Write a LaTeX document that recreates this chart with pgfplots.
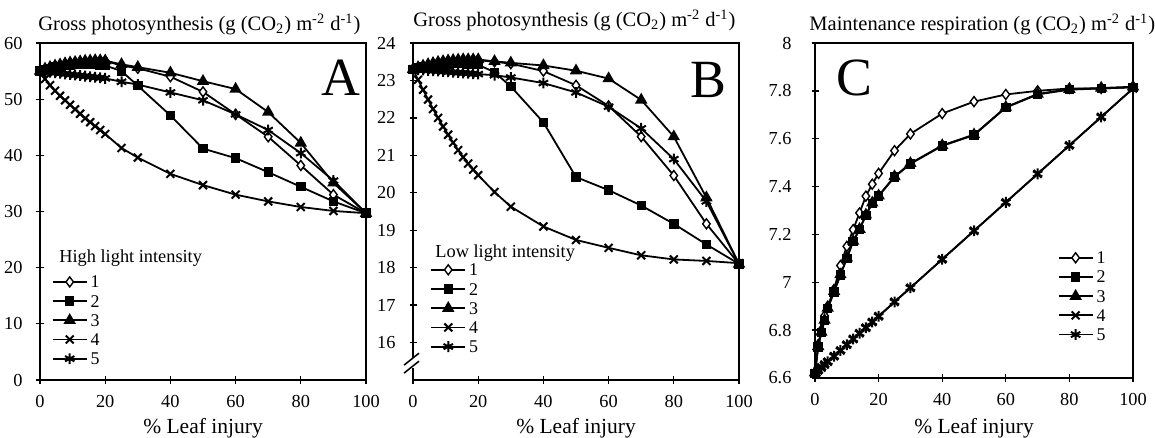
\documentclass[border=0pt]{standalone}
\usepackage{fontspec}
\setmainfont{Liberation Serif}
\usepackage{pgfplots}
\usepackage{pgfplotstable}
\pgfplotsset{compat=1.18}

% panel A: high light, gross photosynthesis
\pgfplotstableread{
x      s1     s2     s3     s4     s5
0      55.0   55.0   55.0   55.0   55.0
1.54   55.3   55.25  55.4   53.6   54.9
3.08   55.6   55.5   55.7   52.5   54.8
4.62   55.85  55.7   55.95  51.5   54.7
6.15   56.05  55.85  56.15  50.6   54.6
7.69   56.25  56.0   56.35  49.8   54.5
9.23   56.4   56.1   56.5   49.0   54.4
10.77  56.5   56.15  56.6   48.2   54.3
12.31  56.6   56.2   56.7   47.4   54.2
13.85  56.7   56.2   56.8   46.6   54.1
15.38  56.75  56.2   56.85  45.9   54.0
16.92  56.8   56.15  56.9   45.2   53.9
18.46  56.8   56.1   56.9   44.5   53.8
20     56.8   56.0   56.85  43.8   53.7
25     56.0   55.0   56.2   41.3   53.1
30     55.5   52.4   55.7   39.6   52.6
40     54.0   47.1   54.7   36.7   51.2
50     51.3   41.2   53.2   34.7   49.8
60     47.3   39.5   51.8   33.0   47.3
70     43.3   37.0   47.7   31.8   44.5
80     38.2   34.4   42.2   30.8   40.4
90     33.0   31.8   35.1   30.1   35.5
100    29.7   29.7   29.7   29.7   29.7
}\dataA

% panel B: low light, gross photosynthesis
\pgfplotstableread{
x      s1     s2     s3     s4     s5
0      23.30  23.30  23.30  23.30  23.30
1.54   23.34  23.33  23.35  23.02  23.29
3.08   23.38  23.36  23.39  22.75  23.28
4.62   23.41  23.38  23.43  22.49  23.27
6.15   23.44  23.40  23.46  22.24  23.26
7.69   23.47  23.42  23.49  22.00  23.25
9.23   23.49  23.43  23.51  21.77  23.24
10.77  23.51  23.44  23.53  21.55  23.23
12.31  23.52  23.45  23.54  21.34  23.22
13.85  23.53  23.45  23.55  21.14  23.21
15.38  23.54  23.45  23.56  20.95  23.20
16.92  23.54  23.44  23.56  20.78  23.19
18.46  23.54  23.43  23.56  20.62  23.18
20     23.54  23.42  23.56  20.47  23.17
25     23.50  23.22  23.51  20.02  23.14
30     23.45  22.84  23.47  19.63  23.08
40     23.25  21.88  23.40  19.10  22.93
50     22.87  20.42  23.26  18.74  22.68
60     22.32  20.07  23.05  18.53  22.30
70     21.50  19.66  22.48  18.33  21.72
80     20.46  19.17  21.50  18.22  20.90
90     19.17  18.62  19.87  18.18  19.77
100    18.10  18.10  18.10  18.12  18.10
}\dataB

% panel C: maintenance respiration
\pgfplotstableread{
x      s1     s2     s3     s4     s5
0      6.620  6.620  6.622  6.620  6.620
1      6.740  6.730  6.732  6.632  6.632
2      6.800  6.790  6.792  6.644  6.644
3      6.860  6.840  6.842  6.656  6.656
4      6.900  6.890  6.892  6.668  6.668
6      6.970  6.960  6.962  6.691  6.691
8      7.070  7.030  7.032  6.715  6.715
10     7.150  7.100  7.102  6.739  6.739
12     7.220  7.170  7.172  6.763  6.763
14     7.290  7.220  7.222  6.787  6.787
16     7.360  7.280  7.282  6.810  6.810
18     7.410  7.330  7.332  6.834  6.834
20     7.455  7.360  7.362  6.858  6.858
25     7.550  7.440  7.442  6.918  6.918
30     7.620  7.495  7.497  6.977  6.977
40     7.705  7.570  7.572  7.096  7.096
50     7.755  7.615  7.617  7.215  7.215
60     7.785  7.730  7.732  7.334  7.334
70     7.800  7.785  7.787  7.453  7.453
80     7.810  7.805  7.807  7.572  7.572
90     7.810  7.810  7.812  7.691  7.691
100    7.815  7.815  7.817  7.810  7.810
}\dataC

\pgfplotsset{
  panel/.style={
    scale only axis, anchor=south west, clip=false,
    xmin=0, xmax=100, xtick={0,20,...,100},
    tick align=center, major tick length=3.5bp,
    xtick pos=bottom, ytick pos=left,
    minor tick num=0,
    tick label style={font=\fontsize{9.2}{10}\selectfont},
    /pgf/number format/assume math mode=true,
    xticklabel style={yshift=-2.5bp},
    yticklabel style={xshift=-3.5bp},
    axis line style={line width=0.75bp},
    every tick/.style={line width=0.65bp, black},
    xlabel={\% Leaf injury},
    xlabel style={font=\fontsize{10.8}{12}\selectfont, at={(axis description cs:0.5,0)},
      anchor=center, yshift=-24bp},
    legend style={draw=none, fill=none, inner sep=0pt,
      font=\fontsize{9}{10}\selectfont,
      nodes={inner sep=0pt, text height=6bp, text depth=0bp},
      row sep=3.6bp, column sep=1.5bp},
    legend cell align=left,
    every axis plot/.append style={line width=0.9bp, black},
  },
  sA/.style={mark=diamond*, mark size=2.5bp, mark options={fill=white, solid, line width=0.7bp}},
  sB/.style={mark=square*, mark size=1.9bp},
  sC/.style={mark=triangle*, mark size=2.7bp},
  sD/.style={mark=x, mark size=2.8bp, mark options={line width=1bp}},
  sE/.style={mark=asterisk, mark size=2.7bp, mark options={line width=1bp}},
}

\begin{document}
\begin{tikzpicture}
\useasboundingbox (0,0) rectangle (577.5bp,219bp);

% ---------------- A ----------------
\begin{axis}[panel, at={(20bp,29bp)}, width=163bp, height=168.5bp,
    ymin=0, ymax=60, ytick={0,10,...,60},
    legend style={at={(rel axis cs:0.035,0.31)}, anchor=north west}]
  \addplot[sA] table[y=s1] {\dataA}; \addlegendentry{1}
  \addplot[sB] table[y=s2] {\dataA}; \addlegendentry{2}
  \addplot[sC] table[y=s3] {\dataA}; \addlegendentry{3}
  \addplot[sD] table[y=s4] {\dataA}; \addlegendentry{4}
  \addplot[sE] table[y=s5] {\dataA}; \addlegendentry{5}
\end{axis}

% ---------------- B ----------------
\begin{axis}[panel, at={(206.5bp,29bp)}, width=163bp, height=168.5bp,
    ymin=15, ymax=24, ytick={16,17,...,24},
    legend style={at={(rel axis cs:0.052,0.346)}, anchor=north west}]
  \addplot[sA] table[y=s1] {\dataB}; \addlegendentry{1}
  \addplot[sB] table[y=s2] {\dataB}; \addlegendentry{2}
  \addplot[sC] table[y=s3] {\dataB}; \addlegendentry{3}
  \addplot[sD] table[y=s4] {\dataB}; \addlegendentry{4}
  \addplot[sE] table[y=s5] {\dataB}; \addlegendentry{5}
  % axis break
  \fill[white] ([xshift=-1bp,yshift=-2.5bp]axis cs:0,15.45) rectangle ([xshift=1bp,yshift=2.5bp]axis cs:0,15.45);
  \draw[line width=0.75bp] ([xshift=-4.5bp,yshift=-5bp]axis cs:0,15.45) -- ([xshift=3bp,yshift=1bp]axis cs:0,15.45);
  \draw[line width=0.75bp] ([xshift=-4.5bp,yshift=-1bp]axis cs:0,15.45) -- ([xshift=3bp,yshift=5bp]axis cs:0,15.45);
\end{axis}

% ---------------- C ----------------
\begin{axis}[panel, at={(407.5bp,30bp)}, width=159bp, height=167.5bp,
    ymin=6.6, ymax=8, ytick={6.6,6.8,...,8.01},
    yticklabel style={xshift=-3bp},
    xlabel style={yshift=-1bp},
    legend style={at={(rel axis cs:0.762,0.378)}, anchor=north west}]
  \addplot[sA] table[y=s1] {\dataC}; \addlegendentry{1}
  \addplot[sB] table[y=s2] {\dataC}; \addlegendentry{2}
  \addplot[sC] table[y=s3] {\dataC}; \addlegendentry{3}
  \addplot[sD] table[y=s4] {\dataC}; \addlegendentry{4}
  \addplot[sE] table[y=s5] {\dataC}; \addlegendentry{5}
\end{axis}

% titles, panel letters, legend headings
\node[anchor=base west, font=\fontsize{10.3}{12}\selectfont, inner sep=0pt] at (19bp,203.6bp)
  {Gross photosynthesis (g (CO\textsubscript{2}) m\textsuperscript{-2} d\textsuperscript{-1})};
\node[anchor=base west, font=\fontsize{10.3}{12}\selectfont, inner sep=0pt] at (206.5bp,205.5bp)
  {Gross photosynthesis (g (CO\textsubscript{2}) m\textsuperscript{-2} d\textsuperscript{-1})};
\node[anchor=base west, font=\fontsize{10.3}{12}\selectfont, inner sep=0pt] at (404.5bp,203.6bp)
  {Maintenance respiration (g (CO\textsubscript{2}) m\textsuperscript{-2} d\textsuperscript{-1})};
\node[font=\fontsize{27}{29}\selectfont, inner sep=0pt] at (170.5bp,180bp) {A};
\node[font=\fontsize{27}{29}\selectfont, inner sep=0pt] at (354bp,179bp) {B};
\node[font=\fontsize{27}{29}\selectfont, inner sep=0pt] at (427bp,180bp) {C};
\node[anchor=west, font=\fontsize{9.2}{10}\selectfont, inner sep=0pt] at (29.5bp,90bp) {High light intensity};
\node[anchor=west, font=\fontsize{9.2}{10}\selectfont, inner sep=0pt] at (217.5bp,92.5bp) {Low light intensity};
\end{tikzpicture}
\end{document}
